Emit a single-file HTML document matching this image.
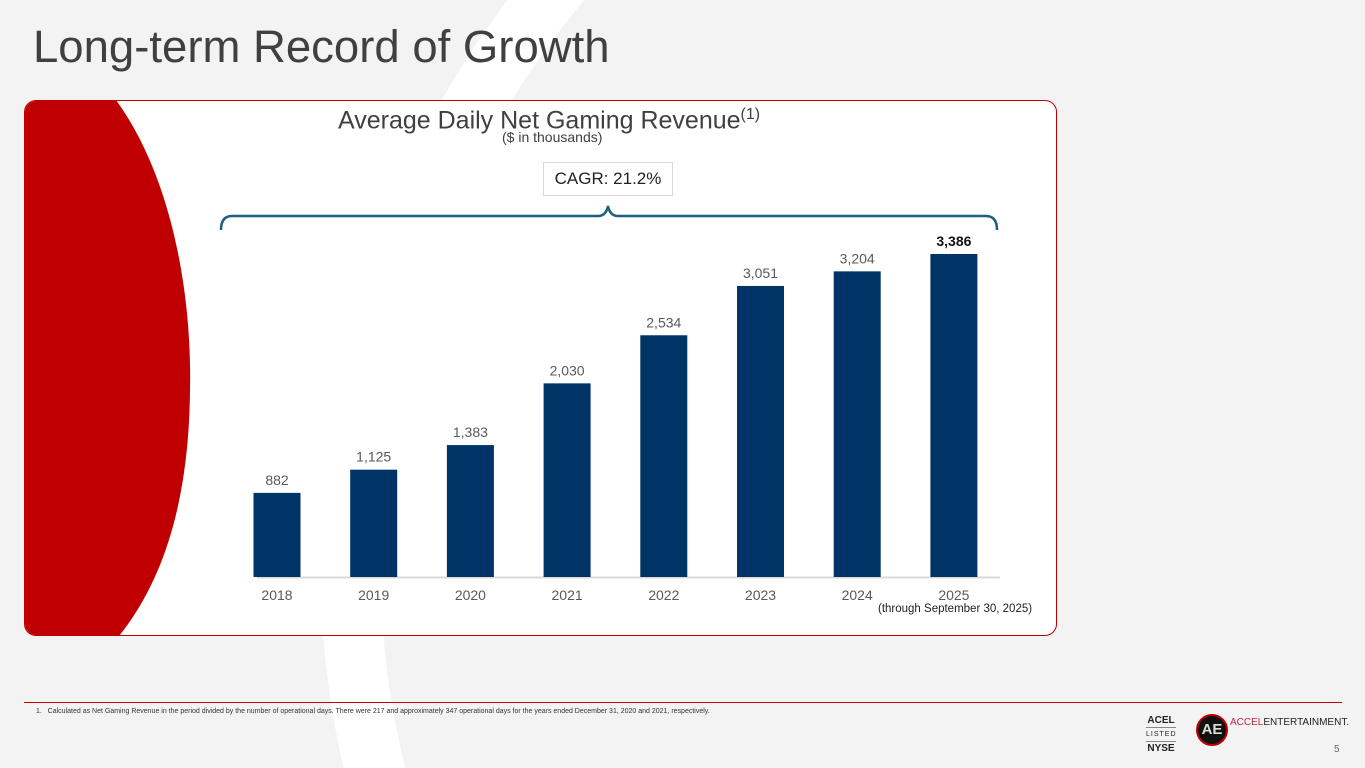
<!DOCTYPE html>
<html style="overflow:hidden;width:1365px;height:768px"><head><meta charset="utf-8">
<style>
body{margin:0;width:1365px;height:768px;overflow:hidden;background:#f3f3f4;font-family:"Liberation Sans",sans-serif;position:relative}
.abs{position:absolute}
</style></head>
<body>
<svg class="abs" style="left:0;top:0" width="1365" height="768">
  <circle cx="1250" cy="560" r="900" fill="none" stroke="#fff" stroke-width="60"/>
</svg>
<div class="abs" style="left:33px;top:21px;font-size:45.5px;color:#404040;white-space:nowrap">Long-term Record of Growth</div>
<div class="abs" style="left:24px;top:100px;width:1031px;height:534px;border:1px solid #c00000;border-radius:12px;background:#fff;overflow:hidden">
  <svg class="abs" style="left:-1px;top:-1px" width="200" height="536">
    <path d="M0,0 L92,0 C150,80 168,200 166,290 C165,400 140,480 95,536 L0,536 Z" fill="#c00000"/>
  </svg>
</div>
<div class="abs" style="left:338px;top:106px;font-size:25px;color:#404040;white-space:nowrap">Average Daily Net Gaming Revenue<sup style="font-size:16px">(1)</sup></div>
<div class="abs" style="left:502px;top:129px;font-size:14px;color:#404040">($ in thousands)</div>
<div class="abs" style="left:543px;top:162px;width:128px;height:32px;border:1px solid #d9d9d9;background:#fff;font-size:17px;color:#222;text-align:center;line-height:32px">CAGR: 21.2%</div>
<svg class="abs" style="left:0;top:0" width="1365" height="768" id="chart">
  <path d="M221,230 Q221,216 232,216 L598,216 Q606,216 608,206 Q610,216 618,216 L986,216 Q997,216 997,230" fill="none" stroke="#1f5f7f" stroke-width="2.5"/>
  <line x1="257" y1="577.5" x2="1000" y2="577.5" stroke="#d9d9d9" stroke-width="2"/>
</svg>
<div class="abs" style="left:878px;top:603px;font-size:11.5px;color:#222;white-space:nowrap">(through September 30, 2025)</div>
<div class="abs" style="left:24px;top:702px;width:1318px;height:1px;background:#c00000"></div>
<div class="abs" style="left:36px;top:708px;font-size:7px;color:#333;white-space:nowrap">1.&nbsp;&nbsp;&nbsp;Calculated as Net Gaming Revenue in the period divided by the number of operational days. There were 217 and approximately 347 operational days for the years ended December 31, 2020 and 2021, respectively.</div>
<div class="abs" style="left:1146px;top:714px;width:30px;text-align:center;font-weight:bold;font-size:10px;color:#222;line-height:13px">ACEL<div style="font-weight:normal;font-size:7px;border-top:1px solid #888;border-bottom:1px solid #888;letter-spacing:1px">LISTED</div>NYSE</div>
<div class="abs" style="left:1196px;top:714px;width:32px;height:32px;border-radius:50%;background:#111;border:2px solid #c00000;box-sizing:border-box;color:#ddd;font-weight:bold;font-size:15px;text-align:center;line-height:28px">AE</div>
<div class="abs" style="left:1230px;top:717px;font-size:10px;color:#222;white-space:nowrap"><span style="color:#c0283c">ACCEL</span>ENTERTAINMENT.</div>
<div class="abs" style="left:1334px;top:744px;font-size:10px;color:#666">5</div>
<script>
const years=["2018","2019","2020","2021","2022","2023","2024","2025"];
const values=[882,1125,1383,2030,2534,3051,3204,3386];
const valueLabels=["882","1,125","1,383","2,030","2,534","3,051","3,204","3,386"];
const svg=document.getElementById('chart');
const NS='http://www.w3.org/2000/svg';
const x0=277,step=96.7,bw=47,base=577,scale=323/3386;
const xPos=i=>x0+i*step;
const yPos=v=>base-v*scale;
values.forEach((v,i)=>{
  const r=document.createElementNS(NS,'rect');
  r.setAttribute('x',xPos(i)-bw/2);r.setAttribute('y',yPos(v));
  r.setAttribute('width',bw);r.setAttribute('height',base-yPos(v));
  r.setAttribute('fill','#003366');
  
  
  svg.appendChild(r);
  const t=document.createElementNS(NS,'text');
  t.setAttribute('x',xPos(i));t.setAttribute('y',yPos(v)-8);
  t.setAttribute('text-anchor','middle');t.setAttribute('font-size','14');
  t.setAttribute('fill',i===values.length-1?'#111':'#595959');
  if(i===values.length-1)t.setAttribute('font-weight','bold');
  t.textContent=valueLabels[i];
  
  
  svg.appendChild(t);
  const y=document.createElementNS(NS,'text');
  y.setAttribute('x',xPos(i));y.setAttribute('y',600);
  y.setAttribute('text-anchor','middle');y.setAttribute('font-size','14');y.setAttribute('fill','#595959');
  y.textContent=years[i];
  
  
  svg.appendChild(y);
});
</script>
</body></html>
